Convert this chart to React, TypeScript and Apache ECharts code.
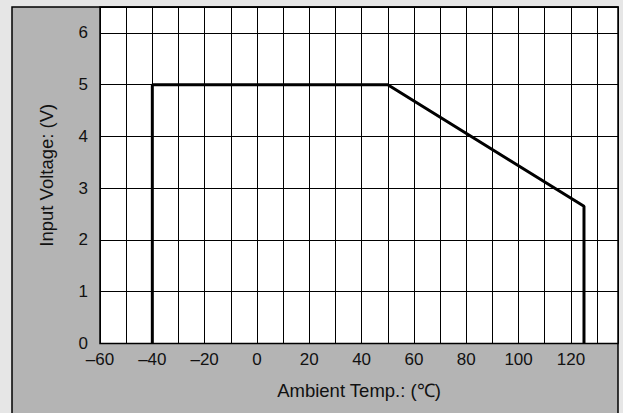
import React, { useEffect, useRef } from "react";
import * as echarts from "echarts";

const curveTemps = [-40, -40, 50, 125, 125];
const curveVolts = [0, 5, 5, 2.65, 0];
const xTitle = "Ambient Temp.: (℃)";
const yTitle = "Input Voltage: (V)";

const FONT = "'Liberation Sans', Arial, Helvetica, sans-serif";

export default function App() {
  const ref = useRef<HTMLDivElement>(null);
  useEffect(() => {
    document.body.style.margin = "0";
    const chart = echarts.init(ref.current!, undefined, { renderer: "svg" });
    chart.setOption({
      animation: false,
      backgroundColor: "#e6e6e6",
      graphic: [
        {
          type: "rect",
          z: -10,
          shape: { x: 12, y: 7, width: 606, height: 420 },
          style: { fill: "#b4b4b4", stroke: "#000", lineWidth: 1.5 },
          silent: true,
        },
      ],
      grid: {
        left: 100,
        top: 7,
        right: 5,
        bottom: 69.5,
        show: true,
        backgroundColor: "#ffffff",
        borderColor: "#000",
        borderWidth: 1.5,
      },
      xAxis: {
        type: "value",
        min: -60,
        max: 138,
        interval: 10,
        name: xTitle,
        nameLocation: "middle",
        nameGap: 37,
        nameTextStyle: { color: "#111", fontSize: 18.5, fontFamily: FONT },
        axisLine: { show: false },
        axisTick: { show: false },
        axisLabel: {
          color: "#111",
          fontSize: 17,
          fontFamily: FONT,
          margin: 7,
          showMaxLabel: false,
          formatter: (v: number) =>
            v % 20 === 0 && v <= 120 ? (v < 0 ? "–" + Math.abs(v) : String(v)) : "",
        },
        splitLine: { show: true, lineStyle: { color: "#000", width: 1 } },
      },
      yAxis: {
        type: "value",
        min: 0,
        max: 6.5,
        interval: 1,
        name: yTitle,
        nameLocation: "middle",
        nameGap: 44,
        nameTextStyle: { color: "#111", fontSize: 18.5, fontFamily: FONT },
        axisLine: { show: false },
        axisTick: { show: false },
        axisLabel: {
          color: "#111",
          fontSize: 17,
          fontFamily: FONT,
          margin: 12,
          showMaxLabel: false,
          formatter: (v: number) => (Number.isInteger(v) ? String(v) : ""),
        },
        splitLine: { show: true, lineStyle: { color: "#000", width: 1 } },
      },
      series: [
        {
          type: "line",
          data: curveTemps.map((t, i) => [t, curveVolts[i]]),
          showSymbol: false,
          lineStyle: { color: "#000", width: 3 },
          z: 5,
        },
      ],
    });
    return () => chart.dispose();
  }, []);
  return (
    <div
      ref={ref}
      style={{ position: "absolute", left: 0, top: 0, width: 623, height: 413 }}
    />
  );
}
